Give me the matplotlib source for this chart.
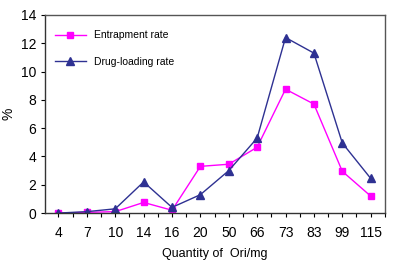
import numpy as np
import matplotlib.pyplot as plt
from matplotlib.ticker import MultipleLocator

plt.rcParams['font.family'] = ['Liberation Sans', 'DejaVu Sans']

# Datos
cantidades = ['4', '7', '10', '14', '16', '20', '50', '66', '73', '83', '99', '115']
atrapamiento = [0.0, 0.05, 0.1, 0.75, 0.2, 3.3, 3.45, 4.65, 8.75, 7.7, 2.95, 1.2]
carga = [0.0, 0.1, 0.3, 2.2, 0.4, 1.3, 3.0, 5.3, 12.4, 11.3, 4.95, 2.45]

fig = plt.figure(figsize=(4.03, 2.66), dpi=100)
ax = fig.add_axes([0.112, 0.199, 0.843, 0.745])

x = np.arange(len(cantidades))
ax.plot(x, atrapamiento, color='#FF00FF', marker='s', markersize=5, lw=1,
        label='Entrapment rate')
ax.plot(x, carga, color='#2E3192', marker='^', markersize=6, lw=1,
        label='Drug-loading rate')

ax.set_xlim(-0.47, 11.5)
ax.set_ylim(0, 14)
ax.set_xticks(x)
ax.set_xticklabels(cantidades)
ax.xaxis.set_minor_locator(MultipleLocator(0.5))
ax.yaxis.set_major_locator(MultipleLocator(2))
ax.tick_params(axis='both', labelsize=10, direction='out', length=3, width=0.8)
ax.tick_params(axis='x', which='minor', length=3, width=0.8)
ax.tick_params(axis='x', pad=6)

for s in ax.spines.values():
    s.set_color('#555555')
    s.set_linewidth(1)
ax.spines['bottom'].set_color('#333333')
ax.spines['left'].set_color('#333333')

ax.set_xlabel('Quantity of  Ori/mg', fontsize=9, labelpad=6)
ax.set_ylabel('%', fontsize=10, labelpad=4)

ax.legend(loc='upper left', frameon=False, fontsize=7.5, labelspacing=1.6,
          handlelength=3, bbox_to_anchor=(0.0, 0.97))

plt.savefig('out.png', dpi=100)
